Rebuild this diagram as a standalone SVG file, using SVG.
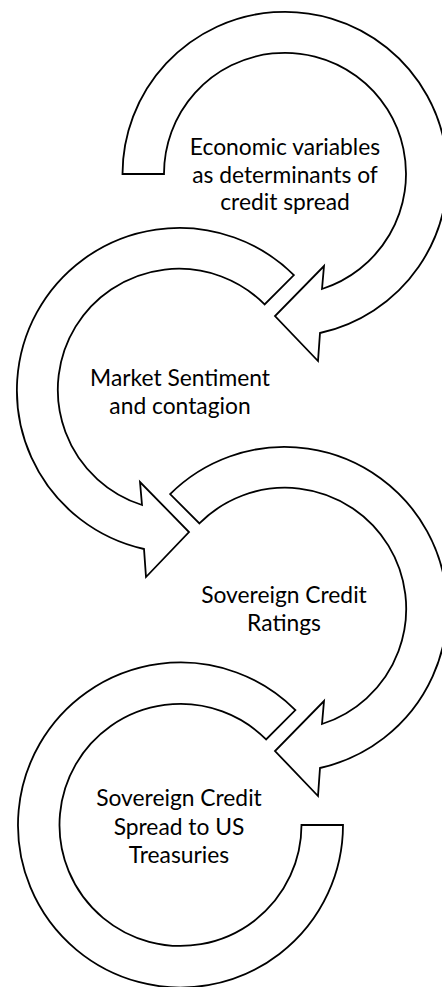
<svg xmlns="http://www.w3.org/2000/svg" width="442" height="987" viewBox="0 0 442 987">
<style>
.arrow{fill:#ffffff;stroke:#000000;stroke-width:1.8;stroke-linejoin:miter}
.lbl{font-family:Lato,"Open Sans","Liberation Sans",sans-serif;font-size:22.8px;fill:#000000;text-anchor:middle}
</style>
<rect width="442" height="987" fill="#ffffff"/>
<g id="connectors">
<g id="arrow1"><path class="arrow" d="M122.5,174 A162.5,162.5 0 1 1 320,333 L318,361 L275,316 L324,266 L322,289 A121,121 0 1 0 164,174 Z"/></g>
<g id="arrow2"><path class="arrow" d="M293.9,275.1 A162.5,162.5 0 1 0 144,549 L146,577 L189,532 L140,482 L142,505 A121,121 0 1 1 264.6,304.4 Z"/></g>
<g id="arrow3"><path class="arrow" d="M170.1,494.1 A162.5,162.5 0 1 1 320,768 L318,796 L275,751 L324,701 L322,724 A121,121 0 1 0 199.4,523.4 Z"/></g>
<g id="arrow4"><path class="arrow" d="M301.5,825 L343,825 A162.5,162.5 0 1 1 295.4,710.1 L266.1,739.4 A121,121 0 1 0 301.5,825 Z"/></g>
</g>
<g id="node1"><text class="lbl" x="285" y="155">Economic variables</text><text class="lbl" x="285" y="182.6">as determinants of</text><text class="lbl" x="285" y="210.2">credit spread</text></g>
<g id="node2"><text class="lbl" x="180" y="386">Market Sentiment</text><text class="lbl" x="180" y="414">and contagion</text></g>
<g id="node3"><text class="lbl" x="284" y="603">Sovereign Credit</text><text class="lbl" x="284" y="631">Ratings</text></g>
<g id="node4"><text class="lbl" x="179" y="806">Sovereign Credit</text><text class="lbl" x="179" y="834.6">Spread to US</text><text class="lbl" x="179" y="863.2">Treasuries</text></g>
</svg>
